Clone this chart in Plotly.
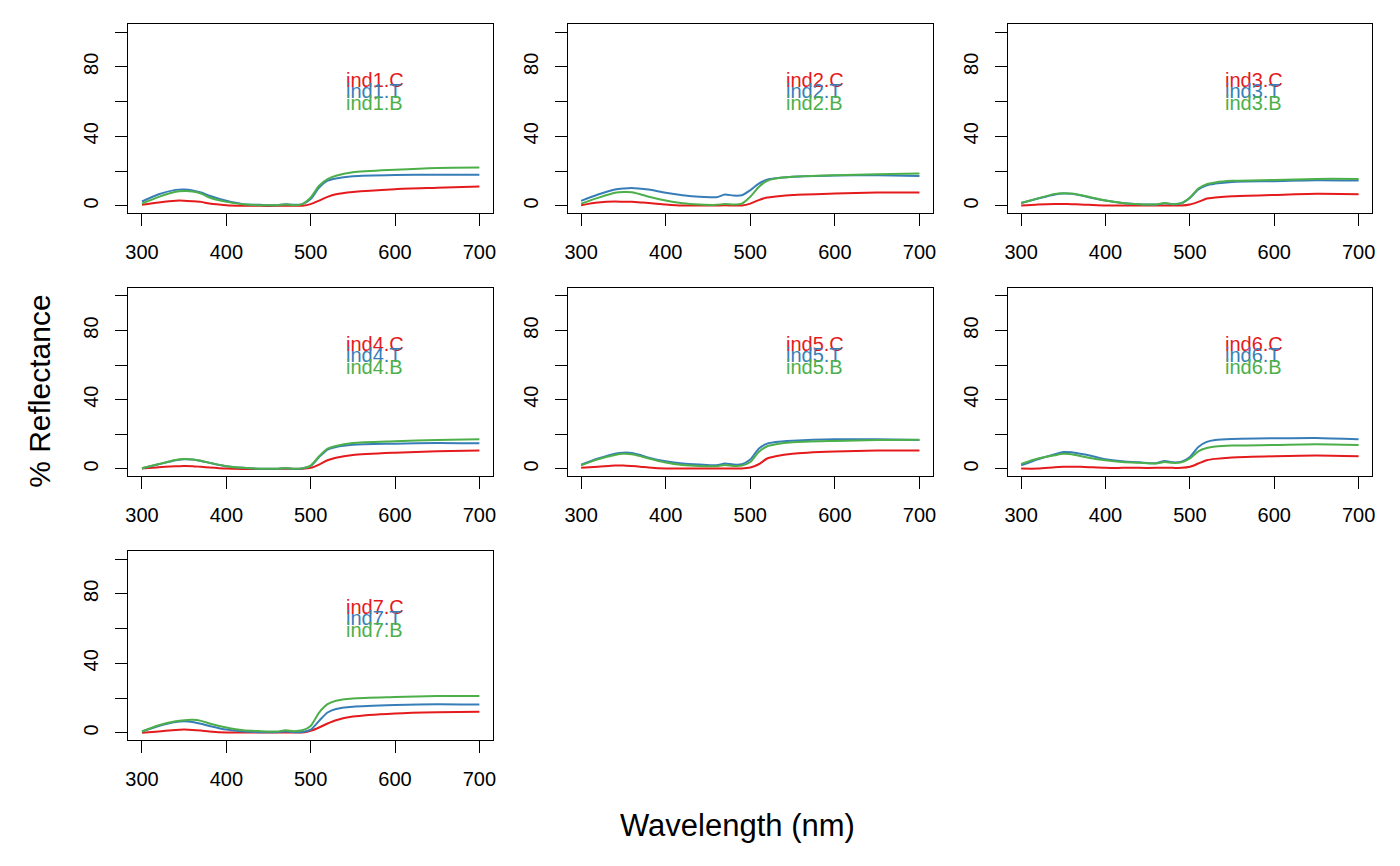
import plotly.graph_objects as go

wavelength = [300, 320, 340, 350, 360, 370, 380, 400, 420, 440, 460, 470, 480, 490,
              500, 510, 520, 530, 550, 600, 650, 700]

ind1_C = [0.6, 2.0, 3.0, 3.0, 2.7, 2.3, 1.3, 0.4, 0.1, 0.0, 0.0, 0.1, 0.0, 0.1, 1.0, 3.0, 5.2, 6.7, 8.0, 9.6, 10.4, 11.2]
ind1_T = [2.5, 6.7, 9.2, 9.4, 8.9, 7.7, 5.8, 2.9, 1.0, 0.6, 0.4, 1.0, 0.6, 1.0, 3.9, 10.6, 14.5, 15.8, 17.0, 17.7, 17.9, 17.9]
ind1_B = [1.3, 5.2, 8.1, 8.5, 8.3, 7.1, 4.8, 2.3, 1.0, 0.4, 0.4, 0.8, 0.4, 1.0, 4.8, 11.6, 15.4, 17.3, 19.3, 20.8, 21.8, 22.0]

ind2_C = [0.4, 1.9, 2.5, 2.4, 2.3, 2.0, 1.7, 0.8, 0.2, 0.2, 0.2, 0.3, 0.2, 0.2, 1.3, 3.3, 4.8, 5.4, 6.3, 7.1, 7.7, 7.7]
ind2_T = [2.9, 6.5, 9.4, 10.0, 10.3, 9.9, 9.4, 7.5, 6.1, 5.2, 5.0, 6.5, 5.9, 6.1, 9.0, 12.8, 15.1, 15.9, 16.7, 17.4, 17.6, 17.2]
ind2_B = [1.3, 4.6, 7.5, 8.0, 7.9, 6.7, 5.2, 3.1, 1.5, 0.8, 0.6, 1.1, 0.8, 1.3, 5.2, 10.9, 14.4, 15.7, 16.7, 17.6, 18.2, 18.6]

ind3_C = [0.2, 0.8, 1.1, 1.1, 1.0, 0.8, 0.6, 0.2, 0.2, 0.2, 0.2, 0.2, 0.2, 0.2, 0.8, 2.3, 4.2, 4.8, 5.6, 6.3, 6.9, 6.7]
ind3_T = [1.7, 4.2, 6.5, 7.1, 6.9, 6.1, 5.0, 3.1, 1.7, 1.0, 0.8, 1.5, 1.0, 1.5, 4.6, 9.4, 11.9, 12.8, 13.8, 14.2, 14.8, 14.6]
ind3_B = [1.7, 4.3, 6.9, 7.3, 7.1, 6.3, 5.2, 3.1, 1.7, 1.0, 0.8, 1.6, 1.0, 1.6, 4.8, 10.0, 12.5, 13.5, 14.4, 14.9, 15.5, 15.5]

ind4_C = [0.2, 1.0, 1.5, 1.7, 1.6, 1.2, 0.8, 0.2, 0.0, 0.0, 0.0, 0.1, 0.0, 0.1, 0.6, 2.5, 5.0, 6.5, 8.1, 9.4, 10.2, 10.6]
ind4_T = [0.4, 2.7, 5.0, 5.6, 5.4, 4.6, 3.5, 1.5, 0.6, 0.1, 0.1, 0.4, 0.1, 0.3, 1.7, 6.9, 11.2, 12.7, 14.0, 14.6, 15.0, 14.8]
ind4_B = [0.4, 2.8, 5.1, 5.7, 5.5, 4.7, 3.6, 1.6, 0.6, 0.1, 0.1, 0.5, 0.1, 0.3, 1.9, 7.3, 11.7, 13.3, 15.0, 16.0, 16.7, 17.1]

ind5_C = [0.6, 1.2, 1.9, 2.0, 1.7, 1.3, 0.8, 0.2, 0.2, 0.2, 0.2, 0.3, 0.2, 0.2, 0.8, 2.7, 6.0, 7.3, 8.8, 10.0, 10.6, 10.6]
ind5_T = [2.5, 6.0, 8.8, 9.4, 9.2, 8.0, 6.5, 4.4, 3.1, 2.5, 2.1, 3.1, 2.5, 2.7, 5.4, 11.7, 14.6, 15.6, 16.3, 17.1, 17.1, 16.7]
ind5_B = [2.1, 5.6, 8.1, 8.7, 8.5, 7.4, 6.0, 3.7, 2.3, 1.7, 1.5, 2.3, 1.7, 1.9, 4.0, 9.8, 13.1, 14.2, 15.4, 16.2, 16.7, 16.9]

ind6_C = [0.2, 0.2, 1.0, 1.2, 1.3, 1.2, 1.0, 0.6, 0.6, 0.6, 0.6, 0.7, 0.6, 0.6, 1.2, 3.1, 5.0, 5.8, 6.6, 7.3, 7.7, 7.3]
ind6_T = [2.1, 5.6, 8.5, 9.8, 9.6, 8.8, 7.9, 5.6, 4.4, 3.8, 3.3, 4.6, 3.8, 4.2, 6.9, 12.7, 15.6, 16.7, 17.3, 17.7, 17.9, 17.1]
ind6_B = [2.9, 6.0, 7.9, 8.7, 8.5, 7.5, 6.5, 5.0, 4.0, 3.5, 3.1, 4.0, 3.5, 3.8, 6.0, 10.2, 12.1, 12.9, 13.5, 13.8, 14.2, 13.8]

ind7_C = [0.0, 0.8, 1.7, 1.9, 1.7, 1.3, 0.8, 0.2, 0.2, 0.2, 0.2, 0.2, 0.2, 0.2, 1.2, 3.1, 5.4, 7.3, 9.4, 11.2, 11.9, 12.1]
ind7_T = [0.8, 4.0, 6.3, 6.7, 6.3, 5.2, 4.0, 1.9, 0.8, 0.4, 0.4, 0.8, 0.4, 0.5, 1.9, 6.9, 11.7, 13.7, 15.0, 16.0, 16.5, 16.3]
ind7_B = [0.8, 4.4, 6.7, 7.3, 7.5, 6.9, 5.4, 3.1, 1.5, 1.0, 0.8, 1.5, 1.0, 1.5, 4.0, 11.7, 16.5, 18.5, 19.8, 20.6, 21.2, 21.2]

panels = [
    ("ind1", ind1_C, ind1_T, ind1_B),
    ("ind2", ind2_C, ind2_T, ind2_B),
    ("ind3", ind3_C, ind3_T, ind3_B),
    ("ind4", ind4_C, ind4_T, ind4_B),
    ("ind5", ind5_C, ind5_T, ind5_B),
    ("ind6", ind6_C, ind6_T, ind6_B),
    ("ind7", ind7_C, ind7_T, ind7_B),
]
suffixes = ["C", "T", "B"]
colors = ["#E41A1C", "#377EB8", "#4DAF4A"]
label_y = [72.5, 65.9, 58.9]
label_x = 539.5

x_ticks = [300, 400, 500, 600, 700]
y_ticks = [0, 20, 40, 60, 80, 100]
y_ticktext = ["0", "", "40", "", "80", ""]

W, H = 1400, 866
col_px = [(126, 492), (567, 934), (1009, 1375)]
row_px = [(24, 213), (288, 476), (551, 740)]

FONT = "Liberation Sans, Arial, Helvetica, sans-serif"

fig = go.Figure()
layout = dict(
    width=W, height=H, margin=dict(l=0, r=0, t=0, b=0),
    paper_bgcolor="white", plot_bgcolor="white", showlegend=False,
    font=dict(family=FONT, color="black"),
)
annotations = []

for i, (name, c, t, b) in enumerate(panels):
    r, col = divmod(i, 3)
    ax = "" if i == 0 else str(i + 1)
    xa, ya = "x" + ax, "y" + ax
    for s, vals, colr in zip(suffixes, (c, t, b), colors):
        fig.add_trace(go.Scatter(
            x=wavelength, y=vals, mode="lines", xaxis=xa, yaxis=ya,
            line=dict(color=colr, width=2, shape="spline", smoothing=0.7),
            hoverinfo="skip"))
    x0, x1 = col_px[col]
    y0, y1 = row_px[r]
    layout["xaxis" + ax] = dict(
        domain=[x0 / W, x1 / W], range=[284, 716], anchor=ya,
        tickvals=x_ticks, ticks="outside", ticklen=12, tickwidth=1, tickcolor="black",
        showline=True, linecolor="black", linewidth=1, mirror=True,
        showgrid=False, zeroline=False, tickfont=dict(size=20, family=FONT),
        ticklabelstandoff=9)
    layout["yaxis" + ax] = dict(
        domain=[1 - y1 / H, 1 - y0 / H], range=[-4.1, 104.6], anchor=xa,
        tickvals=y_ticks, ticktext=y_ticktext, ticks="outside", ticklen=12,
        tickwidth=1, tickcolor="black", tickangle=-90,
        showline=True, linecolor="black", linewidth=1, mirror=True,
        showgrid=False, zeroline=False, tickfont=dict(size=20, family=FONT),
        ticklabelstandoff=9)
    for s, colr, ly in zip(suffixes, colors, label_y):
        annotations.append(dict(
            x=label_x, y=ly, xref=xa, yref=ya, text=f"{name}.{s}",
            showarrow=False, xanchor="left", yanchor="middle",
            font=dict(size=20, color=colr, family=FONT)))

annotations.append(dict(
    x=738 / W, y=1 - 825 / H, xref="paper", yref="paper", text="Wavelength (nm)",
    showarrow=False, xanchor="center", yanchor="middle",
    font=dict(size=31, family=FONT, color="black")))
annotations.append(dict(
    x=36 / W, y=1 - 391 / H, xref="paper", yref="paper", text="% Reflectance",
    showarrow=False, xanchor="center", yanchor="middle", textangle=-90,
    font=dict(size=30, family=FONT, color="black")))

layout["annotations"] = annotations
fig.update_layout(**layout)
fig.write_html("out.html")
